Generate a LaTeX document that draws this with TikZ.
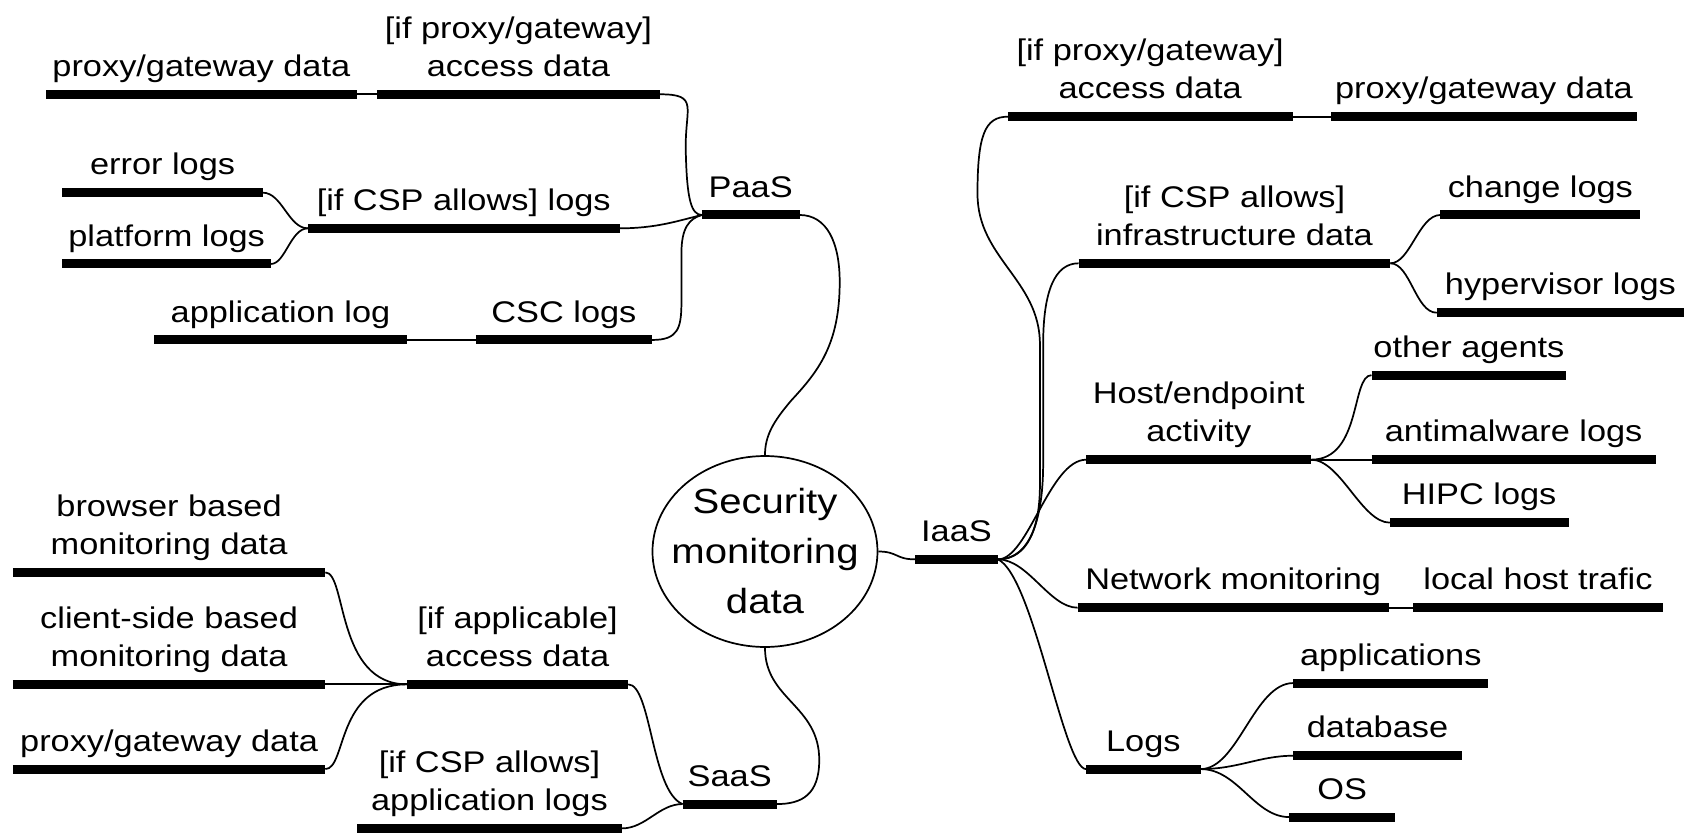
\documentclass[tikz,border=0pt]{standalone}
\usepackage{fontspec}
\setmainfont{Liberation Sans}[FakeStretch=1.15]
\usetikzlibrary{shapes.geometric}
\tikzset{
  barline/.style={line width=4.2pt, line cap=butt},
  link/.style={line width=0.8pt},
  lbl/.style={anchor=base, align=center, inner sep=0pt, font=\fontsize{13.87pt}{17.75pt}\selectfont},
  coreshape/.style={draw, ellipse, line width=0.8pt, minimum width=104.5pt, minimum height=88.7pt, inner sep=0pt},
  coretxt/.style={anchor=base, align=center, inner sep=0pt, font=\fontsize{16.2pt}{23.2pt}\selectfont},
}
% name, x-left, x-right, y, text (base of the last line sits just above the bar)
\newcommand\mmbranch[5]{%
  \coordinate (#1-l) at (#2,#4);
  \coordinate (#1-r) at (#3,#4);
  \draw[barline] (#1-l) -- (#1-r);
  \node[lbl] (#1) at ({(#2+#3)/2},{#4-16.5}) {#5};
}
\begin{document}
\begin{tikzpicture}[x=0.5pt,y=-0.5pt]
\useasboundingbox (0,0) rectangle (1568,774);

% centre
\node[coreshape] (core) at (710.6,512.3) {};
\node[coretxt] (coretext) at (710.6,570) {Security\\monitoring\\data};

% PaaS side
\mmbranch{pgdL}{42.8}{331.3}{87.6}{proxy/gateway data}
\mmbranch{accL}{350}{613.2}{87.6}{[if proxy/gateway]\\access data}
\mmbranch{errL}{57.9}{244.2}{179}{error logs}
\mmbranch{platL}{57.9}{251.7}{245.2}{platform logs}
\mmbranch{logsL}{286}{575.5}{212.1}{[if CSP allows] logs}
\mmbranch{paas}{652}{742.7}{199.7}{PaaS}
\mmbranch{applog}{143.5}{377.6}{315.8}{application log}
\mmbranch{csc}{442}{605.7}{315.8}{CSC logs}

% SaaS side
\mmbranch{browser}{11.9}{302.2}{531.7}{browser based\\monitoring data}
\mmbranch{client}{11.9}{302.2}{635.7}{client-side based\\monitoring data}
\mmbranch{pgdS}{11.9}{302.2}{714.4}{proxy/gateway data}
\mmbranch{accS}{378}{583.5}{635.7}{[if applicable]\\access data}
\mmbranch{applogs}{331.7}{577.6}{769.5}{[if CSP allows]\\application logs}
\mmbranch{saas}{634}{721.6}{746.9}{SaaS}

% IaaS side
\mmbranch{iaas}{850}{927}{519.6}{IaaS}
\mmbranch{accR}{936.2}{1200.6}{108.4}{[if proxy/gateway]\\access data}
\mmbranch{pgdR}{1236.4}{1520.4}{108.4}{proxy/gateway data}
\mmbranch{infra}{1001.9}{1291.5}{244.6}{[if CSP allows]\\infrastructure data}
\mmbranch{change}{1338}{1523.7}{199.7}{change logs}
\mmbranch{hyper}{1334.6}{1564.3}{290.5}{hypervisor logs}
\mmbranch{host}{1009}{1218}{427}{Host/endpoint\\activity}
\mmbranch{other}{1274}{1455}{348.5}{other agents}
\mmbranch{anti}{1274}{1538}{427}{antimalware logs}
\mmbranch{hipc}{1291}{1457}{485.5}{HIPC logs}
\mmbranch{net}{1001}{1290}{564.5}{Network monitoring}
\mmbranch{local}{1312.6}{1544.6}{564.5}{local host trafic}
\mmbranch{logsR}{1008.8}{1115.3}{714.4}{Logs}
\mmbranch{apps}{1201.4}{1382.4}{634.5}{applications}
\mmbranch{db}{1201.4}{1357.8}{702}{database}
\mmbranch{os}{1197.7}{1295.9}{759}{OS}

% PaaS connectors
\draw[link] (pgdL-r) -- (accL-l);
\draw[link] (accL-r) .. controls (650,87.6) and (636,100) .. (637,140) .. controls (638,185) and (642,199.7) .. (paas-l);
\draw[link] (errL-r) .. controls (262,179) and (268,212.1) .. (logsL-l);
\draw[link] (platL-r) .. controls (265,245.2) and (270,212.1) .. (logsL-l);
\draw[link] (logsL-r) .. controls (610,212.1) and (630,205) .. (paas-l);
\draw[link] (applog-r) -- (csc-l);
\draw[link] (csc-r) .. controls (630,315.8) and (633,305) .. (633,280) -- (633,235) .. controls (633,212) and (640,203) .. (paas-l);
\draw[link] (paas-r) .. controls (768,199.7) and (780,225) .. (780,262) .. controls (780,320) and (760,345) .. (735,372) .. controls (718,392) and (710.6,405) .. (core.north);

% centre to IaaS and SaaS
\draw[link] (core.east) .. controls +(18,0) and +(-18,0) .. (iaas-l);
\draw[link] (core.south) .. controls (710.6,650) and (761,655) .. (761,706) .. controls (761,738) and (745,746.9) .. (saas-r);

% SaaS connectors
\draw[link] (accS-r) .. controls (605,635.7) and (605,735) .. (saas-l);
\draw[link] (applogs-r) .. controls (600,769.5) and (612,746.9) .. (saas-l);
\draw[link] (browser-r) .. controls (322,531.7) and (312,635.7) .. (accS-l);
\draw[link] (client-r) -- (accS-l);
\draw[link] (pgdS-r) .. controls (322,714.4) and (312,635.7) .. (accS-l);

% IaaS connectors
\draw[link] (iaas-r) .. controls (955,519.6) and (966,490) .. (966,450) -- (966,320) .. controls (966,260) and (908,240) .. (908,180) .. controls (908,125) and (915,108.4) .. (accR-l);
\draw[link] (iaas-r) .. controls (958,519.6) and (969,480) .. (969,430) -- (969,320) .. controls (969,270) and (980,244.6) .. (infra-l);
\draw[link] (iaas-r) .. controls (955,519.6) and (975,427) .. (host-l);
\draw[link] (iaas-r) .. controls (955,519.6) and (975,564.5) .. (net-l);
\draw[link] (iaas-r) .. controls (960,535) and (988,714.4) .. (logsR-l);
\draw[link] (accR-r) -- (pgdR-l);
\draw[link] (infra-r) .. controls (1310,244.6) and (1318,199.7) .. (change-l);
\draw[link] (infra-r) .. controls (1310,244.6) and (1315,290.5) .. (hyper-l);
\draw[link] (host-r) .. controls (1265,427) and (1255,348.5) .. (other-l);
\draw[link] (host-r) -- (anti-l);
\draw[link] (host-r) .. controls (1245,427) and (1265,485.5) .. (hipc-l);
\draw[link] (net-r) -- (local-l);
\draw[link] (logsR-r) .. controls (1150,714.4) and (1165,634.5) .. (apps-l);
\draw[link] (logsR-r) .. controls (1150,714.4) and (1170,702) .. (db-l);
\draw[link] (logsR-r) .. controls (1150,714.4) and (1165,759) .. (os-l);
\end{tikzpicture}
\end{document}
